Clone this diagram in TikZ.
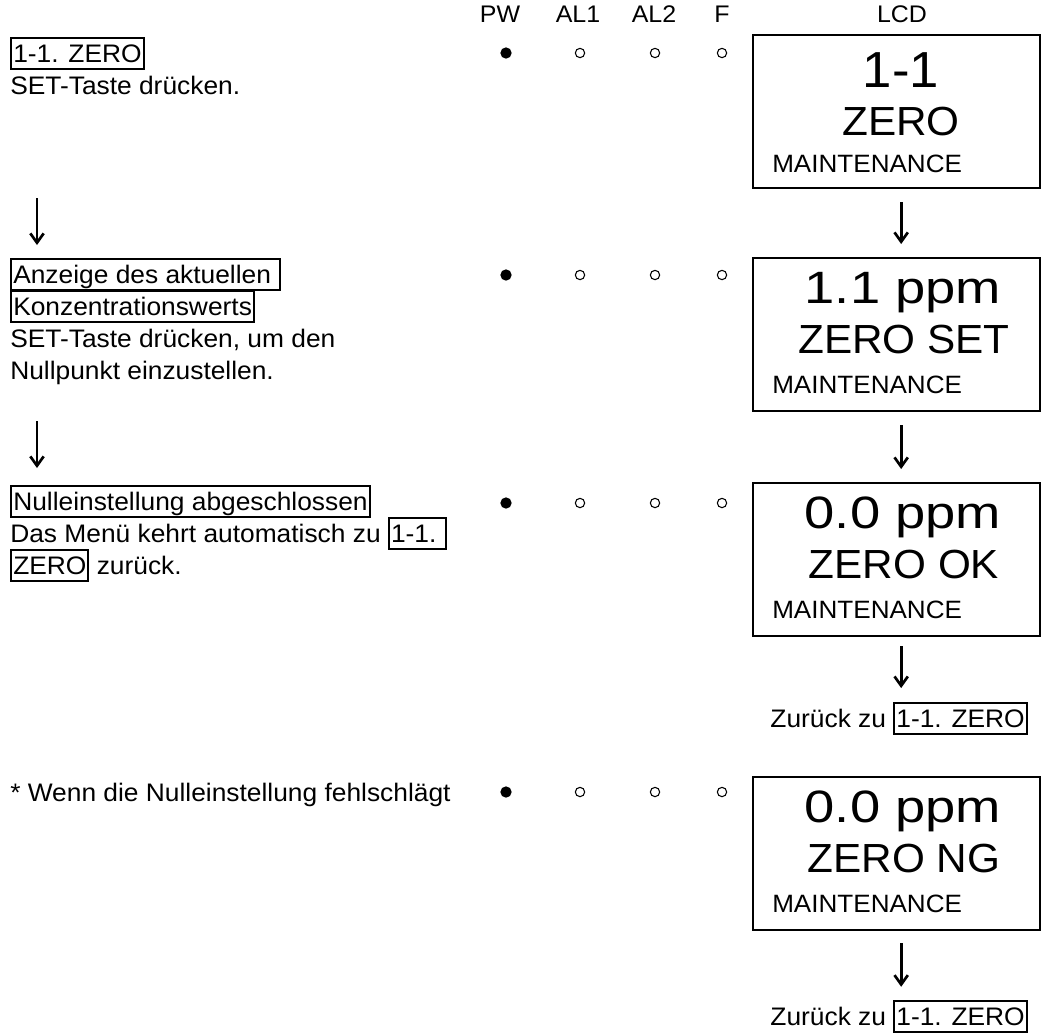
\documentclass[tikz,border=0pt]{standalone}
\usepackage{fontspec}
\setmainfont{Liberation Sans}[FakeStretch=1.04]
\newfontfamily\lcdwide{Liberation Sans}[FakeStretch=1.2]
\usetikzlibrary{arrows.meta,positioning}
\lineskiplimit=-100pt
\newcommand{\kbox}[1]{{\setlength{\fboxsep}{0pt}\setlength{\fboxrule}{1.5pt}\fbox{\kern0.75pt\rule[-4.4pt]{0pt}{21.4pt}#1\kern0.75pt}}}

\begin{document}
\begin{tikzpicture}[x=0.75pt,y=-0.75pt,
  txt/.style={anchor=base west,inner sep=0pt,align=left,font=\fontsize{19pt}{24pt}\selectfont},
  head/.style={anchor=base,inner sep=0pt,font=\fontsize{18pt}{20pt}\selectfont},
  lcd/.style={draw,line width=1.5pt,minimum width=215.25pt,minimum height=114.75pt,inner sep=0pt},
  big/.style={anchor=base,inner sep=0pt,font=\lcdwide\fontsize{34pt}{40pt}\selectfont},
  mid/.style={anchor=base,inner sep=0pt,font=\fontsize{30.5pt}{32pt}\selectfont},
  maint/.style={anchor=base west,inner sep=0pt,font=\fontsize{18.8pt}{20pt}\selectfont},
  ledon/.style={circle,fill,inner sep=0pt,minimum size=8.5pt},
  ledoff/.style={circle,draw,line width=0.8pt,inner sep=0pt,minimum size=7pt},
  dn/.style={-{Straight Barb[length=7pt,width=10pt]},line width=2pt}]
  \useasboundingbox (0,0) rectangle (1042,1033);

  % column heads
  \node[head] (hpw) at (500,22) {PW};
  \node[head] (hal1) at (578,22) {AL1};
  \node[head] (hal2) at (654,22) {AL2};
  \node[head] (hf) at (722,22) {F};
  \node[head] (hlcd) at (902,22) {LCD};

  % step 1
  \node[txt] (step1) at (10,94) {\kbox{1-1. ZERO}\\SET-Taste drücken.};
  \node[ledon] (pw1) at (506,53) {}; \node[ledoff] (aa1) at (580,53) {};
  \node[ledoff] (ab1) at (655,53) {}; \node[ledoff] (f1) at (722,53) {};
  \node[lcd] (lcd1) at (896.5,111.5) {};
  \node[big,font=\normalfont\fontsize{38pt}{44pt}\selectfont] (v1) at (901,87) {1-1};
  \node[mid] (m1) at (901,135) {ZERO};
  \node[maint] (s1) at (772,172) {MAINTENANCE};

  % step 2
  \node[txt] (step2) at (10,379) {\kbox{Anzeige des aktuellen\ }\\\kbox{Konzentrationswerts}\\SET-Taste drücken, um den\\Nullpunkt einzustellen.};
  \node[ledon] (pw2) at (506,275) {}; \node[ledoff] (aa2) at (580,275) {};
  \node[ledoff] (ab2) at (655,275) {}; \node[ledoff] (f2) at (722,275) {};
  \node[lcd] (lcd2) at (896.5,334.5) {};
  \node[big] (v2) at (903,303) {1.1 ppm};
  \node[mid] (m2) at (904,353) {ZERO SET};
  \node[maint] (s2) at (772,393) {MAINTENANCE};

  % step 3
  \node[txt] (step3) at (10,574) {\kbox{Nulleinstellung abgeschlossen}\\Das Menü kehrt automatisch zu \kbox{1-1.\ }\\\kbox{ZERO} zurück.};
  \node[ledon] (pw3) at (506,503) {}; \node[ledoff] (aa3) at (580,503) {};
  \node[ledoff] (ab3) at (655,503) {}; \node[ledoff] (f3) at (722,503) {};
  \node[lcd] (lcd3) at (896.5,559.5) {};
  \node[big] (v3) at (903,528) {0.0 ppm};
  \node[mid] (m3) at (904,578) {ZERO OK};
  \node[maint] (s3) at (772,618) {MAINTENANCE};
  \node[txt,anchor=base east] (zur1) at (1028,727) {Zurück zu \kbox{1-1. ZERO}};

  % failed zero
  \node[txt] (step4) at (10,801) {* Wenn die Nulleinstellung fehlschlägt};
  \node[ledon] (pw4) at (506,792) {}; \node[ledoff] (aa4) at (580,792) {};
  \node[ledoff] (ab4) at (655,792) {}; \node[ledoff] (f4) at (722,792) {};
  \node[lcd] (lcd4) at (896.5,853.5) {};
  \node[big] (v4) at (903,822) {0.0 ppm};
  \node[mid] (m4) at (904,872) {ZERO NG};
  \node[maint] (s4) at (772,912) {MAINTENANCE};
  \node[txt,anchor=base east] (zur2) at (1028,1025) {Zurück zu \kbox{1-1. ZERO}};

  % arrows
  \coordinate (la1) at (37,198);
  \coordinate (lb1) at (37,245);
  \coordinate (la2) at (37,421);
  \coordinate (lb2) at (37,468);
  \draw[dn] (la1) -- (lb1);
  \draw[dn] (la2) -- (lb2);
  \draw[dn,shorten <=9.75pt,shorten >=9.75pt] ([xshift=3.5pt]lcd1.south) -- ([xshift=3.5pt]lcd2.north);
  \draw[dn,shorten <=9.75pt,shorten >=9.75pt] ([xshift=3.5pt]lcd2.south) -- ([xshift=3.5pt]lcd3.north);
  \draw[dn,shorten <=7pt,shorten >=10.5pt] ([xshift=3.5pt]lcd3.south) -- ([xshift=3.5pt]lcd3.south |- zur1.north);
  \draw[dn,shorten <=9pt,shorten >=10pt] ([xshift=3.5pt]lcd4.south) -- ([xshift=3.5pt]lcd4.south |- zur2.north);
\end{tikzpicture}
\end{document}
